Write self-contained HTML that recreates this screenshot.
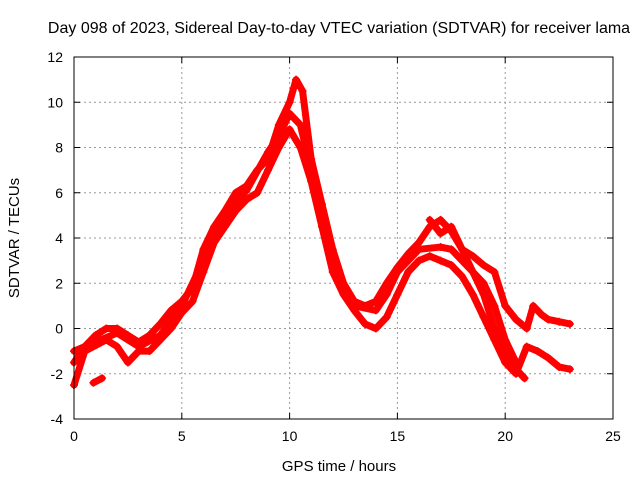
<!DOCTYPE html>
<html><head><meta charset="utf-8"><style>
body{margin:0;background:#fff;}
svg text{font-family:"Liberation Sans",sans-serif;font-size:14px;fill:#000;}
</style></head><body>
<svg id="chart" width="640" height="480" xmlns="http://www.w3.org/2000/svg">
<rect width="640" height="480" fill="#fff"/>
<text x="339" y="33" text-anchor="middle" style="font-size:16px">Day 098 of 2023, Sidereal Day-to-day VTEC variation (SDTVAR) for receiver lama</text>
<text x="339" y="471" text-anchor="middle" style="font-size:15px">GPS time / hours</text>
<text transform="translate(19,238) rotate(-90)" text-anchor="middle" style="font-size:15px">SDTVAR / TECUs</text>
<g id="grid"></g><g id="series"></g>
<rect x="74" y="57" width="539" height="362" fill="none" stroke="#000" stroke-width="1"/>
</svg>
<script>
const xTicks=[0,5,10,15,20,25];
const yTicks=[-4,-2,0,2,4,6,8,10,12];
const sAx=[0,0.5,1,1.5,2,2.5,3,3.5,4,4.5,5,5.5,6,6.5,7,7.5,8,8.5,9,9.5,10,10.3,10.6,11,11.5,12,12.5,13,13.5,14,14.5,15,15.5,16,16.5,17,17.5,18,18.5,19,19.5,20,20.5,20.9];
const sAy=[-1.5,-0.8,-0.3,0,0,-0.3,-0.6,-0.3,0.2,0.8,1.2,1.8,3.5,4.5,5.2,6,6.3,7,7.5,9,10,11,10.5,7.5,5.5,3.5,2,1.2,1,1.2,2,2.7,3.3,3.8,4.5,4.8,4.3,3.5,2.5,1.5,0,-1,-1.8,-2.2];
const sBx=[0,0.5,1.5,2,2.5,3,3.5,4,4.5,5,5.5,6,6.5,7,7.5,8,8.5,9,9.5,10,10.5,11,11.5,12,12.5,13,13.5,14,14.5,15,15.5,16,16.5,17,17.5,18,18.5,19,19.5,20,20.5,21,21.5,22,22.5,23];
const sBy=[-2.5,-1,-0.5,-0.8,-1.5,-1,-1,-0.5,0,0.7,1.2,2.5,3.8,4.5,5.2,5.7,6,7,8,8.8,8,6.5,4.5,2.5,1.5,0.8,0.2,0,0.5,1.5,2.5,3,3.2,3,2.8,2.3,1.5,0.5,-0.5,-1.5,-2,-0.8,-1,-1.3,-1.7,-1.8];
const sCx=[0,1,2,3,4,5,6,7,8,9,9.5,10,10.5,11,12,13,14,14.5,15,16,17,17.5,18,19,19.5,20,20.5];
const sCy=[-1,-0.6,-0.2,-0.8,-0.3,1,3,5,6.1,7.8,8.5,9.5,9,7,3,1,0.8,1.5,2.5,3.5,3.6,3.5,3,2,1,-0.5,-1.5];
const sDx=[16.5,17,17.5,18,18.5,19,19.5,20,20.5,21,21.3,21.7,22,22.5,23];
const sDy=[4.8,4.2,4.5,3.5,3.2,2.8,2.5,1,0.4,0,1,0.6,0.4,0.3,0.2];
const sEx=[0.9,1.3];
const sEy=[-2.4,-2.2];
const X=v=>74+v*539/25, Y=v=>419-(v+4)*362/16;
const NS="http://www.w3.org/2000/svg";
const g=document.getElementById('grid'), s=document.getElementById('series');
function mk(t,a,p){const e=document.createElementNS(NS,t);for(const k in a)e.setAttribute(k,a[k]);p.appendChild(e);return e;}
xTicks.forEach(v=>{const x=X(v);
 if(v>0&&v<25){const l=mk('line',{x1:x,x2:x,y1:57,y2:419,stroke:'#999','stroke-dasharray':'2,3'},g);}
 mk('line',{x1:x,x2:x,y1:419,y2:413,stroke:'#000'},g);mk('line',{x1:x,x2:x,y1:57,y2:63,stroke:'#000'},g);
 const t=mk('text',{x:x,y:441,'text-anchor':'middle'},g);t.textContent=v;
 });
yTicks.forEach(v=>{const y=Y(v);
 if(v>-4&&v<12){const l=mk('line',{x1:74,x2:613,y1:y,y2:y,stroke:'#999','stroke-dasharray':'2,3'},g);}
 mk('line',{x1:74,x2:80,y1:y,y2:y,stroke:'#000'},g);mk('line',{x1:613,x2:607,y1:y,y2:y,stroke:'#000'},g);
 const t=mk('text',{x:63,y:y+5,'text-anchor':'end'},g);t.textContent=v;
 });
[[sAx,sAy],[sBx,sBy],[sCx,sCy],[sDx,sDy],[sEx,sEy]].forEach((d,i)=>{
 const pts=d[0].map((x,j)=>X(x)+','+Y(d[1][j])).join(' ');
 const pl=mk('polyline',{points:pts,fill:'none',stroke:'#f00','stroke-width':7,'stroke-linejoin':'round','stroke-linecap':'round'},s);
 
 
 d[0].forEach((x,j)=>{const px=X(x),py=Y(d[1][j]);
  const m=mk('path',{d:`M${px-4},${py}H${px+4}M${px},${py-4}V${py+4}`,stroke:'#f00','stroke-width':1.5},s);
  
  });
});
</script>
</body></html>
